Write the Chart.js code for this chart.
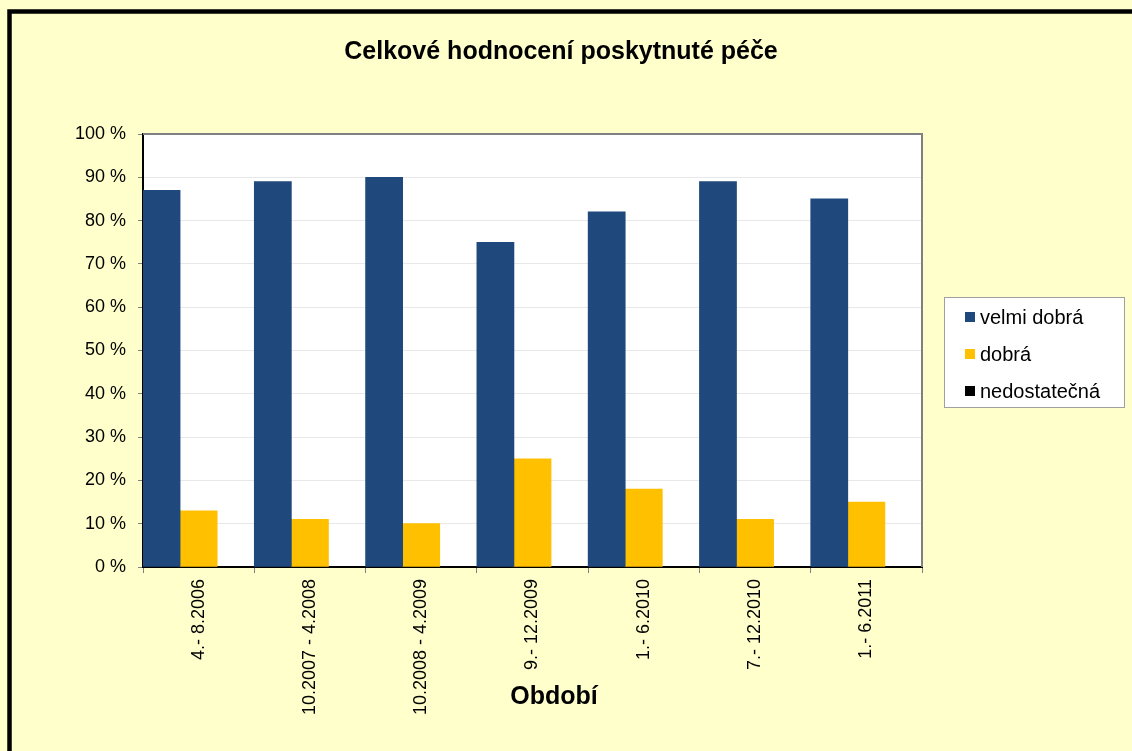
<!DOCTYPE html>
<html>
<head>
<meta charset="utf-8">
<title>Celkové hodnocení poskytnuté péče</title>
<script src="https://cdn.jsdelivr.net/npm/chart.js@4/dist/chart.umd.min.js"></script>
<style>
	body { margin: 0; background: #FFFFCC; }
	canvas { display: block; }
</style>
</head>
<body>
<canvas id="myChart" width="1132" height="751"></canvas>
<script>
	var labels = ['4.- 8.2006', '10.2007 - 4.2008', '10.2008 - 4.2009', '9.- 12.2009', '1.- 6.2010', '7.- 12.2010', '1.- 6.2011'];
	var velmiDobra = [87, 89, 90, 75, 82, 89, 85];
	var dobra = [13, 11, 10, 25, 18, 11, 15];
	var nedostatecna = [0, 0, 0, 0, 0, 0, 0];
	var yTicks = [0, 10, 20, 30, 40, 50, 60, 70, 80, 90, 100];

	var chartTitle = 'Celkové hodnocení poskytnuté péče';
	var xTitle = 'Období';
	var fontFamily = '"Liberation Sans", Arial, sans-serif';

	// pozadí, rámeček, titulky a legenda
	var decor = {
		id: 'decor',
		beforeDraw: function(chart) {
			var ctx = chart.ctx;
			var a = chart.chartArea;
			ctx.save();
			ctx.fillStyle = '#FFFFCC';
			ctx.fillRect(0, 0, chart.width, chart.height);
			ctx.strokeStyle = '#000000';
			ctx.lineWidth = 4.5;
			ctx.strokeRect(9.5, 11.5, chart.width + 50, chart.height + 50);
			ctx.fillStyle = '#FFFFFF';
			ctx.fillRect(a.left, a.top, a.right - a.left, a.bottom - a.top);
			ctx.restore();
		},
		afterDraw: function(chart) {
			var ctx = chart.ctx;
			var a = chart.chartArea;
			ctx.save();
			// horní a pravý okraj plochy grafu
			ctx.strokeStyle = '#808080';
			ctx.lineWidth = 2;
			ctx.beginPath();
			ctx.moveTo(a.left, a.top);
			ctx.lineTo(a.right, a.top);
			ctx.lineTo(a.right, a.bottom);
			ctx.stroke();

			ctx.fillStyle = '#000000';
			ctx.textAlign = 'center';
			ctx.textBaseline = 'middle';
			ctx.font = 'bold 25px ' + fontFamily;
			ctx.fillText(chartTitle, 561, 52);
			ctx.fillText(xTitle, 554, 697);

			// legenda
			ctx.fillStyle = '#FFFFFF';
			ctx.fillRect(944, 297, 180, 110);
			ctx.strokeStyle = '#A0A0A0';
			ctx.lineWidth = 1;
			ctx.strokeRect(944.5, 297.5, 180, 110);
			ctx.font = '20px ' + fontFamily;
			ctx.textAlign = 'left';
			chart.data.datasets.forEach(function(ds, i) {
				var y = 317 + i * 37;
				ctx.fillStyle = ds.backgroundColor;
				ctx.fillRect(965, y - 5, 10, 10);
				ctx.fillStyle = '#000000';
				ctx.fillText(ds.label, 980, y + 1);
			});
			ctx.restore();
		}
	};

	var ctx = document.getElementById('myChart').getContext('2d');
	var myChart = new Chart(ctx, {
		type: 'bar',
		data: {
			labels: labels,
			datasets: [
				{
					label: 'velmi dobrá',
					data: velmiDobra,
					backgroundColor: '#1F497D',
					barPercentage: 1,
					categoryPercentage: 1
				},
				{
					label: 'dobrá',
					data: dobra,
					backgroundColor: '#FFC000',
					barPercentage: 1,
					categoryPercentage: 1
				},
				{
					label: 'nedostatečná',
					data: nedostatecna,
					backgroundColor: '#000000',
					barPercentage: 1,
					categoryPercentage: 1
				}
			]
		},
		options: {
			responsive: false,
			animation: false,
			layout: {
				padding: { left: 10, right: 210, top: 134, bottom: 0 }
			},
			plugins: {
				legend: { display: false },
				title: { display: false },
				tooltip: { enabled: false }
			},
			scales: {
				x: {
					afterFit: function(scale) { scale.height = 184; },
					grid: {
						drawOnChartArea: false,
						tickLength: 6,
						tickColor: '#808080',
						offset: true
					},
					border: { color: '#000000', width: 2 },
					ticks: {
						minRotation: 90,
						maxRotation: 90,
						padding: 6,
						color: '#000000',
						font: { family: fontFamily, size: 18 }
					}
				},
				y: {
					min: 0,
					max: 100,
					afterFit: function(scale) { scale.width = 133; },
					afterBuildTicks: function(scale) {
						scale.ticks = yTicks.map(function(v) { return { value: v }; });
					},
					grid: {
						color: '#E8E8E8',
						tickColor: '#808080',
						tickLength: 5
					},
					border: { color: '#000000', width: 2 },
					ticks: {
						padding: 12,
						color: '#000000',
						font: { family: fontFamily, size: 18 },
						callback: function(v) { return v + ' %'; }
					}
				}
			}
		},
		plugins: [decor]
	});
</script>
</body>
</html>
